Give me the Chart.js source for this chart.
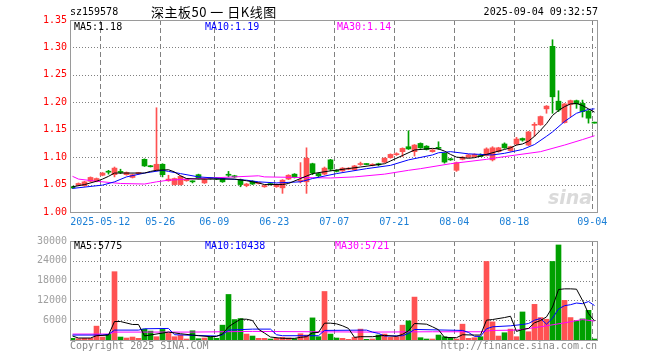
<!DOCTYPE html>
<html><head><meta charset="utf-8">
<script src="https://cdn.jsdelivr.net/npm/chart.js@4.4.1/dist/chart.umd.min.js"></script>
<style>
html,body{margin:0;padding:0;background:#fff;}
body{width:660px;height:360px;overflow:hidden;position:relative;font-family:"DejaVu Sans Mono",monospace;}
canvas{position:absolute;left:0;}
.t{position:absolute;font-size:10px;line-height:12px;white-space:pre;font-family:"DejaVu Sans Mono",monospace;}
</style></head><body>
<canvas id="pc" width="660" height="232" style="top:0;width:660px;height:232px"></canvas>
<canvas id="vc" width="660" height="128" style="top:232px;width:660px;height:128px"></canvas>
<div class="t" style="left:70px;top:6px;color:#000">sz159578</div>
<div class="t" style="left:151px;top:3px;font-family:'Noto Sans CJK SC',sans-serif;font-size:13px;line-height:17px;letter-spacing:0.5px;color:#000">深主板50 一 日K线图</div>
<div class="t" style="right:62px;top:6px;color:#000">2025-09-04 09:32:57</div>
<div class="t" style="left:74px;top:21px;color:#000">MA5:1.18</div>
<div class="t" style="left:205px;top:21px;color:#0000ff">MA10:1.19</div>
<div class="t" style="left:337px;top:21px;color:#ff00ff">MA30:1.14</div>
<div class="t" style="left:74px;top:240px;color:#000">MA5:5775</div>
<div class="t" style="left:205px;top:240px;color:#0000ff">MA10:10438</div>
<div class="t" style="left:335px;top:240px;color:#ff00ff">MA30:5721</div>
<div class="t" style="left:70px;top:340px;color:#888">Copyright 2025 SINA.COM</div>
<div class="t" style="right:63px;top:340px;color:#888">http://finance.sina.com.cn</div>
<div class="t" style="left:548px;top:186px;font-family:'DejaVu Sans',sans-serif;font-size:19px;line-height:22px;font-weight:bold;font-style:italic;color:rgba(150,150,150,0.35)">sina</div>
<script>
// ---- data ----
const dates = ['04-30','05-06','05-07','05-08','05-09','05-12','05-13','05-14','05-15','05-16',
'05-19','05-20','05-21','05-22','05-23','05-26','05-27','05-28','05-29','05-30',
'06-03','06-04','06-05','06-06','06-09','06-10','06-11','06-12','06-13','06-16',
'06-17','06-18','06-19','06-20','06-23','06-24','06-25','06-26','06-27','06-30',
'07-01','07-02','07-03','07-04','07-07','07-08','07-09','07-10','07-11','07-14',
'07-15','07-16','07-17','07-18','07-21','07-22','07-23','07-24','07-25','07-28',
'07-29','07-30','07-31','08-01','08-04','08-05','08-06','08-07','08-08','08-11',
'08-12','08-13','08-14','08-15','08-18','08-19','08-20','08-21','08-22','08-25',
'08-26','08-27','08-28','08-29','09-01','09-02','09-03','09-04'];
const open = [1.046,1.049,1.048,1.056,1.056,1.067,1.0735,1.068,1.074,1.068,
1.063,1.070,1.096,1.0835,1.076,1.087,1.057,1.050,1.050,1.057,
1.056,1.068,1.053,1.062,1.061,1.061,1.068,1.066,1.059,1.048,
1.056,1.052,1.046,1.051,1.046,1.044,1.060,1.069,1.056,1.055,
1.088,1.070,1.069,1.095,1.076,1.075,1.078,1.077,1.0865,1.0875,
1.085,1.088,1.091,1.099,1.1045,1.110,1.119,1.110,1.125,1.120,
1.110,1.117,1.107,1.097,1.076,1.096,1.100,1.101,1.103,1.103,
1.095,1.110,1.124,1.112,1.124,1.134,1.122,1.158,1.159,1.188,
1.302,1.202,1.163,1.196,1.203,1.198,1.184,1.163];
const high = [1.047,1.053,1.056,1.064,1.062,1.072,1.076,1.082,1.078,1.073,
1.069,1.072,1.097,1.085,1.190,1.088,1.067,1.062,1.066,1.061,
1.057,1.069,1.060,1.063,1.062,1.062,1.074,1.067,1.060,1.052,
1.057,1.054,1.049,1.052,1.051,1.059,1.068,1.070,1.090,1.117,
1.089,1.071,1.082,1.096,1.077,1.081,1.081,1.085,1.091,1.088,
1.088,1.089,1.099,1.106,1.108,1.117,1.148,1.123,1.126,1.121,
1.114,1.128,1.108,1.098,1.091,1.101,1.105,1.106,1.106,1.117,
1.119,1.118,1.126,1.120,1.136,1.135,1.147,1.163,1.175,1.194,
1.314,1.221,1.198,1.204,1.204,1.204,1.185,1.163];
const low = [1.043,1.048,1.047,1.055,1.055,1.066,1.069,1.064,1.070,1.067,
1.062,1.069,1.083,1.082,1.075,1.064,1.056,1.049,1.049,1.056,
1.053,1.060,1.052,1.060,1.059,1.054,1.064,1.063,1.046,1.046,
1.050,1.051,1.045,1.049,1.045,1.034,1.059,1.062,1.053,1.034,
1.068,1.064,1.068,1.075,1.073,1.074,1.077,1.076,1.085,1.086,
1.084,1.084,1.090,1.098,1.103,1.101,1.114,1.102,1.116,1.113,
1.109,1.114,1.089,1.094,1.074,1.095,1.099,1.100,1.101,1.102,
1.093,1.109,1.116,1.111,1.122,1.129,1.121,1.138,1.158,1.180,
1.180,1.183,1.162,1.174,1.189,1.173,1.162,1.162];
const close = [1.044,1.052,1.055,1.063,1.061,1.071,1.0725,1.080,1.072,1.072,
1.068,1.071,1.084,1.0825,1.087,1.068,1.060,1.061,1.065,1.060,
1.055,1.061,1.059,1.061,1.060,1.055,1.067,1.064,1.050,1.051,
1.051,1.053,1.048,1.050,1.050,1.058,1.067,1.063,1.058,1.098,
1.071,1.066,1.080,1.078,1.074,1.080,1.079,1.084,1.0875,1.0865,
1.087,1.086,1.098,1.105,1.1055,1.116,1.115,1.122,1.117,1.114,
1.113,1.116,1.091,1.095,1.090,1.100,1.104,1.105,1.101,1.115,
1.117,1.117,1.117,1.119,1.133,1.131,1.146,1.159,1.174,1.193,
1.210,1.186,1.197,1.203,1.197,1.183,1.171,1.162];
const volume = [500,400,500,500,4200,900,1700,20700,900,600,
900,500,3300,2700,1000,3200,2000,1000,1400,300,
2800,400,600,1000,500,4500,13800,6200,6500,1800,
1200,500,500,300,500,800,600,400,1900,1500,
6700,1000,14700,1800,600,500,200,800,3300,200,
300,1500,1800,800,1000,4500,5800,13000,700,300,
300,1500,1000,500,300,4800,500,700,1000,23800,
5500,1200,2200,3300,1000,8500,2500,10800,6800,6300,
23800,28800,12000,6800,5800,6400,9000,300];
// moving-average lines: [day index, value]
const ma5 = [[0,1.046],[2,1.050],[4,1.056],[5,1.060],[6,1.065],[7,1.071],[12,1.071],[13,1.074],[14,1.076],[16,1.077],[17,1.073],[18,1.066],[19,1.061],[21,1.060],[27,1.060],[29,1.057],[31,1.053],[32,1.050],[35,1.050],[36,1.052],[38,1.061],[40,1.070],[43,1.075],[48,1.082],[52,1.088],[53,1.093],[55,1.103],[57,1.113],[60,1.116],[61,1.115],[62,1.111],[63,1.105],[64,1.100],[66,1.098],[67,1.099],[69,1.105],[72,1.114],[73,1.117],[74,1.122],[75,1.124],[76,1.129],[77,1.138],[78,1.149],[79,1.161],[80,1.176],[81,1.185],[82,1.192],[83,1.197],[84,1.198],[85,1.194],[86,1.188],[87,1.182]];
const ma10 = [[0,1.043],[5,1.049],[7,1.055],[9,1.064],[12,1.071],[15,1.076],[16,1.074],[18,1.070],[21,1.064],[25,1.061],[29,1.058],[31,1.055],[34,1.053],[38,1.055],[40,1.061],[44,1.070],[49,1.079],[53,1.085],[56,1.095],[60,1.104],[61,1.108],[63,1.110],[66,1.106],[70,1.104],[72,1.107],[75,1.114],[77,1.123],[79,1.138],[80,1.146],[82,1.165],[84,1.180],[86,1.187],[87,1.188]];
const ma30 = [[0,1.065],[1,1.060],[4,1.056],[8,1.052],[12,1.051],[13,1.053],[14,1.055],[16,1.058],[21,1.061],[27,1.064],[31,1.066],[32,1.064],[43,1.062],[47,1.064],[52,1.069],[56,1.076],[58,1.079],[63,1.088],[69,1.096],[72,1.101],[78,1.110],[82,1.122],[85,1.132],[87,1.139]];
const vma5 = [[0,1200],[1,600],[3,600],[4,1300],[6,1500],[7,5600],[8,5600],[10,4700],[11,4700],[12,1240],[15,2100],[16,2400],[18,1900],[20,1500],[21,1300],[23,1000],[24,1100],[25,1800],[26,4000],[27,5200],[28,6300],[29,6300],[30,5900],[31,3240],[32,2100],[33,900],[35,500],[37,500],[38,800],[39,1000],[40,2200],[41,2300],[42,5100],[43,5100],[44,4900],[45,4300],[46,3500],[47,800],[48,1000],[50,1000],[52,1400],[54,1100],[55,1700],[56,2800],[57,5000],[59,4800],[60,4000],[61,3100],[62,800],[64,700],[65,1600],[67,1500],[68,1500],[69,6000],[70,6200],[72,6800],[73,7200],[74,2600],[75,3200],[76,3500],[77,5200],[78,5900],[79,7000],[80,10000],[81,15300],[82,15500],[83,15500],[84,15400],[85,12000],[86,8000],[87,5775]];
const vma10 = [[0,1500],[5,1500],[6,1700],[7,3000],[11,3000],[12,3400],[16,3500],[17,1600],[24,1200],[25,1600],[26,3000],[30,3300],[33,3300],[34,1600],[35,1300],[41,1300],[42,2900],[49,3000],[50,2400],[51,2000],[52,1200],[55,1300],[56,2000],[57,3200],[65,2900],[66,2300],[67,1100],[68,1100],[69,3400],[70,4000],[73,4300],[75,4700],[76,5000],[77,6000],[78,6500],[79,4800],[80,6600],[81,9400],[82,10400],[83,10700],[84,11200],[85,11000],[86,11650],[87,10438]];
const vma30 = [[0,1800],[6,1800],[7,2400],[20,2400],[30,2600],[40,2500],[50,2400],[60,2500],[68,2500],[70,2900],[74,3000],[78,4000],[82,5200],[85,6200],[87,5721]];
const tickIdx = [5,15,24,34,44,54,64,74,87];
const tickLabels = ['2025-05-12','05-26','06-09','06-23','07-07','07-21','08-04','08-18','09-04'];
const priceTicks = [1.00,1.05,1.10,1.15,1.20,1.25,1.30,1.35];
const volTicks = [0,6000,12000,18000,24000,30000];

// ---- styling ----
const UP = '#ff5252', DOWN = '#00a000';
const colors = dates.map((d,i)=> close[i] >= open[i] ? UP : DOWN);
const mono = {family:'DejaVu Sans Mono', size:10};
const pts = a => a.map(p=>({x:p[0], y:p[1]}));

// grid (dashed verticals at date ticks, dotted horizontals at value ticks) drawn with the scales' pixels
const frame = {
  id:'frame',
  beforeDatasetsDraw(chart){
    const ctx = chart.ctx, a = chart.chartArea, x = chart.scales.x, y = chart.scales.y;
    ctx.save();
    ctx.lineWidth = 1;
    ctx.strokeStyle = '#808080';
    const xs = tickIdx.map(i => Math.round(x.getPixelForValue(i - 0.37)) + 0.5);
    ctx.setLineDash([5,3]);
    xs.forEach(px => { ctx.beginPath(); ctx.moveTo(px, a.top); ctx.lineTo(px, a.bottom); ctx.stroke(); });
    const vals = chart.canvas.id === 'pc' ? priceTicks : volTicks;
    ctx.setLineDash([1,2]);
    vals.slice(1, -1).forEach(v => {
      const py = Math.round(y.getPixelForValue(v)) + 0.5;
      ctx.beginPath(); ctx.moveTo(a.left, py); ctx.lineTo(a.right, py); ctx.stroke();
    });
    ctx.restore();
  },
  afterDraw(chart){
    const a = chart.chartArea, c = chart.ctx;
    c.save(); c.setLineDash([]); c.strokeStyle = '#9a9a9a'; c.lineWidth = 1;
    c.strokeRect(Math.round(a.left)+0.5, Math.round(a.top)+0.5, Math.round(a.right-a.left)-1, Math.round(a.bottom-a.top));
    c.restore();
  }
};

function xAxis(showLabels, h){
  return {
    type:'linear', min:-0.41667, max:87.58333, offset:false, bounds:'data',
    afterBuildTicks: s => { s.ticks = tickIdx.map(i=>({value:i-0.37})); },
    afterFit: s => { s.height = h; },
    grid:{display:false, drawTicks:false, offset:false},
    border:{display:false},
    ticks:{display:showLabels, autoSkip:false, maxRotation:0, minRotation:0, padding:4,
      color:'#1b7fd6', font:mono, callback:(v,i)=>tickLabels[i]}
  };
}
function line(arr, color){
  return {type:'line', data:pts(arr), borderColor:color, borderWidth:1, pointRadius:0,
    tension:0, spanGaps:true, fill:false, xAxisID:'x', yAxisID:'y'};
}

new Chart(document.getElementById('pc'), {
  type:'bar',
  data:{datasets:[
    line(ma5,'#000000'), line(ma10,'#0000ff'), line(ma30,'#ff00ff'),
    {type:'bar', data:dates.map((d,i)=>({x:i, y:[open[i], close[i]]})), backgroundColor:colors,
      barThickness:5, minBarLength:1, grouped:false, borderWidth:0},
    {type:'bar', data:dates.map((d,i)=>({x:i, y:[low[i], high[i]]})), backgroundColor:colors,
      barThickness:1, minBarLength:1, grouped:false, borderWidth:0}
  ]},
  options:{
    responsive:false, animation:false, events:[],
    layout:{padding:{left:0,right:62,top:20,bottom:0}},
    plugins:{legend:{display:false}, tooltip:{enabled:false}},
    scales:{
      x: xAxis(true, 20),
      y:{min:1.0, max:1.35,
        afterBuildTicks: s => { s.ticks = priceTicks.map(v=>({value:v})); },
        afterFit: s => { s.width = 70; },
        grid:{display:false, drawTicks:false},
        border:{display:false},
        ticks:{color:'#ff0000', font:mono, padding:3, callback:v=>Number(v).toFixed(2)}}
    }
  },
  plugins:[frame]
});

new Chart(document.getElementById('vc'), {
  type:'bar',
  data:{datasets:[
    line(vma5,'#000000'), line(vma10,'#0000ff'), line(vma30,'#ff00ff'),
    {type:'bar', data:dates.map((d,i)=>({x:i, y:volume[i]})), backgroundColor:colors,
      barThickness:5, grouped:false, borderWidth:0}
  ]},
  options:{
    responsive:false, animation:false, events:[],
    layout:{padding:{left:0,right:62,top:8,bottom:0}},
    plugins:{legend:{display:false}, tooltip:{enabled:false}},
    scales:{
      x: xAxis(false, 20),
      y:{min:0, max:30000,
        afterBuildTicks: s => { s.ticks = volTicks.map(v=>({value:v})); },
        afterFit: s => { s.width = 70; },
        grid:{display:false, drawTicks:false},
        border:{display:false},
        ticks:{color:'#a0a0a0', font:mono, padding:3, callback:v=> v===0 ? '' : String(v)}}
    }
  },
  plugins:[frame]
});
</script>
</body></html>
